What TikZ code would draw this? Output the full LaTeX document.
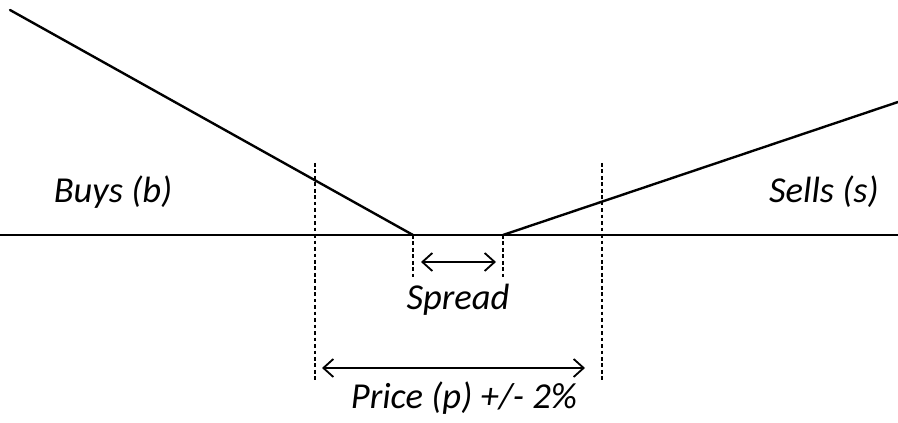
\documentclass[tikz,border=0pt]{standalone}
\usepackage{fontspec}
\setmainfont{Carlito}
\usetikzlibrary{arrows.meta}

\begin{document}
\begin{tikzpicture}[>={Straight Barb[length=2.5mm,width=4.5mm]},font=\fontsize{26}{30}\selectfont\itshape]
\useasboundingbox (0,0) rectangle (22.45,10.575);
\tikzset{curve/.style={line width=1.7pt},guide/.style={line width=1.3pt,dash pattern=on 2.6pt off 2pt}}
% key points
\coordinate (bidtop) at (0.25,10.325);
\coordinate (bid) at (10.325,4.7);
\coordinate (ask) at (12.575,4.7);
\coordinate (asktop) at (22.45,8.025);
\draw[curve] (0,4.7) -- (22.45,4.7);
\draw[curve,line cap=round] (bidtop) -- (bid);
\draw[curve] (ask) -- (asktop);
% band
\draw[guide] (7.875,6.5) coordinate (lo) -- (7.875,1.075);
\draw[guide] (15.05,6.5) coordinate (hi) -- (15.05,1.075);
\draw[guide] (bid) -- (10.325,3.575);
\draw[guide] (ask) -- (12.575,3.575);
\draw[<->,line width=1.3pt] (10.525,4.025) -- (12.4,4.025);
\draw[<->,line width=1.3pt] (8.05,1.375) -- (14.625,1.375);
\node (spread) at (11.45,3.075) {Spread};
\node (price) at (11.6,0.625) {Price (p) +/- 2\%};
\node (buys) at (2.825,5.775) {Buys (b)};
\node (sells) at (20.6,5.775) {Sells (s)};
\end{tikzpicture}
\end{document}
